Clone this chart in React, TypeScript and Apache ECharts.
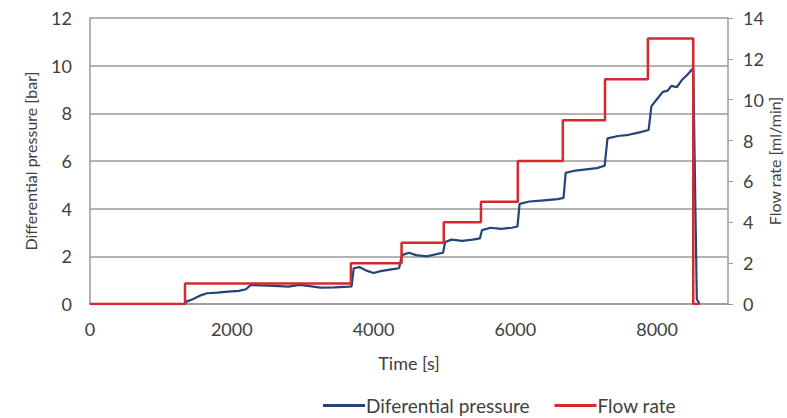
import React, { useEffect, useRef } from "react";
import * as echarts from "echarts";

const pressureTime = [
  0, 1340, 1360, 1450, 1550, 1650, 1800, 1950, 2100, 2200, 2270, 2400, 2600, 2800, 2950, 3100, 3250, 3450, 3650, 3690,
  3720, 3800, 3900, 4000, 4100, 4250, 4360, 4400, 4500, 4600, 4750, 4900, 4980, 5010, 5100, 5250, 5400, 5500, 5530,
  5650, 5800, 5950, 6030, 6060, 6200, 6400, 6600, 6680, 6710, 6850, 7000, 7150, 7260, 7300, 7450, 7600, 7750, 7880,
  7920, 8000, 8080, 8150, 8200, 8280, 8350, 8420, 8480, 8510, 8560, 8600,
];
const pressureValue = [
  0, 0, 0.1, 0.2, 0.35, 0.45, 0.48, 0.52, 0.55, 0.62, 0.8, 0.78, 0.76, 0.73, 0.8, 0.75, 0.69, 0.7, 0.73, 0.74,
  1.5, 1.55, 1.4, 1.3, 1.38, 1.45, 1.5, 2.05, 2.15, 2.05, 2.0, 2.1, 2.15, 2.6, 2.7, 2.65, 2.7, 2.75, 3.1,
  3.2, 3.15, 3.2, 3.25, 4.2, 4.3, 4.35, 4.4, 4.45, 5.5, 5.6, 5.65, 5.7, 5.8, 6.95, 7.05, 7.1, 7.2, 7.3,
  8.3, 8.6, 8.9, 8.95, 9.15, 9.1, 9.4, 9.6, 9.8, 9.9, 0.2, 0,
];

const flowTime = [0, 1340, 3680, 4395, 4990, 5515, 6035, 6670, 7265, 7870, 8510, 8600];
const flowValue = [0, 1, 2, 3, 4, 5, 7, 9, 11, 13, 0, 0];

const xTicks = [0, 2000, 4000, 6000, 8000];
const leftTicks = [0, 2, 4, 6, 8, 10, 12];
const rightTicks = [0, 2, 4, 6, 8, 10, 12, 14];

const seriesNames = ["Diferential pressure", "Flow rate"];

const FONT = "Lato";
const TEXT = "#404040";
const GRID = "#9a9a9a";
const BLUE = "#23457a";
const RED = "#d42a2f";

export default function App() {
  const ref = useRef<HTMLDivElement>(null);
  useEffect(() => {
    if (!ref.current) return;
    const chart = echarts.init(ref.current, null, { renderer: "svg" });
    const tickStyle = { color: TEXT, fontFamily: FONT, fontSize: 18 };
    chart.setOption({
      animation: false,
      textStyle: { fontFamily: FONT, color: TEXT },
      grid: { left: 90, right: 59, top: 18, bottom: 114, containLabel: false, outerBoundsMode: "none" },
      legend: {
        top: 391,
        left: 318,
        icon: "rect",
        itemWidth: 42,
        itemHeight: 3,
        itemGap: 25,
        textStyle: { color: TEXT, fontFamily: FONT, fontSize: 19, padding: [0, 0, 0, -4] },
        data: seriesNames,
      },
      xAxis: {
        type: "value",
        min: 0,
        max: 9000,
        interval: 2000,
        name: "Time [s]",
        nameLocation: "middle",
        nameGap: 50,
        nameTextStyle: tickStyle,
        axisLine: { show: true, lineStyle: { color: GRID, width: 1.5 } },
        axisTick: { show: false },
        axisLabel: {
          ...tickStyle,
          margin: 16,
          formatter: (v: number) => (xTicks.includes(v) ? String(v) : ""),
        },
        splitLine: { show: false },
      },
      yAxis: [
        {
          type: "value",
          min: 0,
          max: 12,
          interval: 2,
          name: "Differential pressure [bar]",
          nameLocation: "middle",
          nameGap: 52,
          nameTextStyle: { color: TEXT, fontFamily: FONT, fontSize: 16 },
          axisLine: { show: true, lineStyle: { color: GRID, width: 1.5 } },
          axisTick: { show: false },
          axisLabel: {
            ...tickStyle,
            margin: 18,
            formatter: (v: number) => (leftTicks.includes(v) ? String(v) : ""),
          },
          splitLine: { show: true, lineStyle: { color: GRID, width: 1.5 } },
        },
        {
          type: "value",
          min: 0,
          max: 14,
          interval: 2,
          position: "right",
          name: "Flow rate [ml/min]",
          nameLocation: "middle",
          nameGap: 38,
          nameMoveOverlap: false,
          nameTextStyle: { color: TEXT, fontFamily: FONT, fontSize: 16 },
          axisLine: { show: true, lineStyle: { color: GRID, width: 1.5 } },
          axisTick: { show: true, length: 5, lineStyle: { color: GRID } },
          axisLabel: {
            ...tickStyle,
            margin: 15,
            formatter: (v: number) => (rightTicks.includes(v) ? String(v) : ""),
          },
          splitLine: { show: false },
        },
      ],
      series: [
        {
          name: seriesNames[0],
          type: "line",
          yAxisIndex: 0,
          symbol: "none",
          lineStyle: { color: BLUE, width: 2.2 },
          itemStyle: { color: BLUE },
          data: pressureTime.map((t, i) => [t, pressureValue[i]]),
        },
        {
          name: seriesNames[1],
          type: "line",
          yAxisIndex: 1,
          symbol: "none",
          step: "end",
          lineStyle: { color: RED, width: 2.5 },
          itemStyle: { color: RED },
          data: flowTime.map((t, i) => [t, flowValue[i]]),
        },
      ],
    });
    return () => chart.dispose();
  }, []);
  return <div ref={ref} style={{ width: 787, height: 418, position: "absolute", left: 0, top: 0 }} />;
}
